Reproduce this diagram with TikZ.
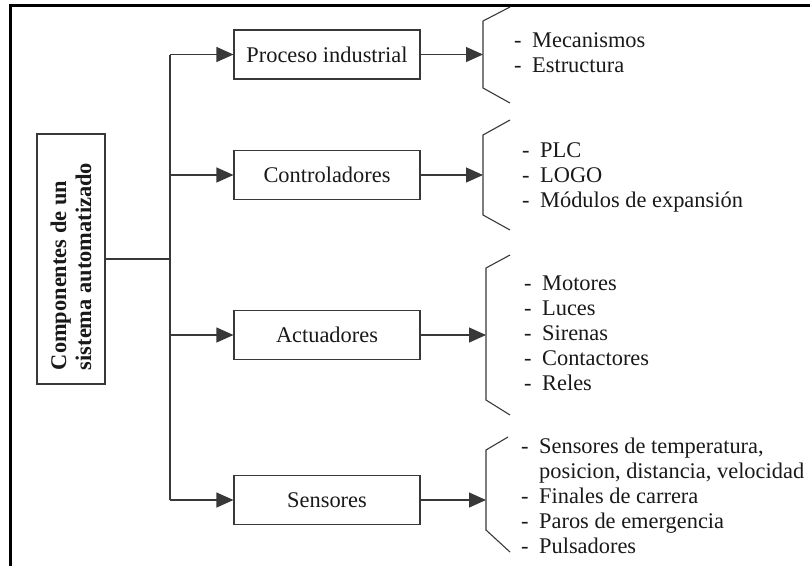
\documentclass[tikz,border=0pt]{standalone}
\usepackage{fontspec}
\setmainfont{Liberation Serif}
\usetikzlibrary{arrows.meta}

\tikzset{
  ink/.style={draw=black!78, line width=1.1pt},
  stage/.style={ink, rectangle, minimum width=186pt, minimum height=49pt,
    inner sep=0pt, font=\fontsize{22.4}{25}\selectfont, text=black!90},
  feed/.style={ink, -{Triangle[length=17pt,width=15pt]}},
  brace/.style={ink, line join=miter},
  items/.style={anchor=west, inner sep=0pt, font=\fontsize{22.4}{25}\selectfont,
    text=black!90},
  title/.style={rotate=90, align=left, inner sep=0pt,
    font=\fontsize{22.4}{25}\selectfont\bfseries, text=black!90}
}

\newcommand{\itemlist}[1]{\begin{tabular}{@{}l@{\hspace{10.5pt}}l@{}}#1\end{tabular}}

\begin{document}
\begin{tikzpicture}[x=1pt, y=-1pt]
  \useasboundingbox (0,0) rectangle (810,566);

  % page frame (open at the right and at the bottom)
  \draw[line width=2.6pt, black] (10.5,566) -- (10.5,5.7) -- (810,5.7);

  % root box with its vertical title
  \node[ink, rectangle, minimum width=68pt, minimum height=250pt, inner sep=0pt]
    (root) at (71,259) {};
  \node[title] (roottext) at (71,266.5)
    {Componentes de un\\sistema automatizado};

  % the four stages
  \node[stage] (proc) at (327,54.5) {Proceso industrial\hspace{11pt}};
  \node[stage] (ctrl) at (327,175)  {Controladores\hspace{32pt}};
  \node[stage] (act)  at (327,335)  {Actuadores\hspace{16pt}};
  \node[stage] (sens) at (327,500)  {Sensores\hspace{8pt}};

  % trunk that feeds the stages
  \coordinate (tm) at (170,259);
  \coordinate (t1) at (170,54.5);
  \coordinate (t2) at (170,175);
  \coordinate (t3) at (170,335);
  \coordinate (t4) at (170,500);
  \draw[ink] (root.east) -- (tm);
  \draw[ink] (t1) -- (t4);
  \draw[feed] (t1) -- (proc.west);
  \draw[feed] (t2) -- (ctrl.west);
  \draw[feed] (t3) -- (act.west);
  \draw[feed] (t4) -- (sens.west);

  % brackets that gather each list
  \draw[brace] (510,7) -- (483,21) -- (483,88) -- (510,103);
  \draw[brace] (510,120) -- (483,135) -- (483,215) -- (510,230);
  \draw[brace] (510,255) -- (486,268) -- (486,400) -- (510,415);
  \draw[brace] (508,437) -- (486,450) -- (486,530) -- (510,552);
  \coordinate (b1) at (483,54.5);
  \coordinate (b2) at (483,175);
  \coordinate (b3) at (486,335);
  \coordinate (b4) at (486,500);
  \draw[feed] (proc.east) -- (b1);
  \draw[feed] (ctrl.east) -- (b2);
  \draw[feed] (act.east) -- (b3);
  \draw[feed] (sens.east) -- (b4);

  % item lists
  \node[items] (l1) at (514,54.5) {\itemlist{-&Mecanismos\\-&Estructura}};
  \node[items] (l2) at (522,177) {\itemlist{-&PLC\\-&LOGO\\-&Módulos de expansión}};
  \node[items] (l3) at (524,335) {\itemlist{-&Motores\\-&Luces\\-&Sirenas\\-&Contactores\\-&Reles}};
  \node[items] (l4) at (521,498) {\itemlist{-&Sensores de temperatura,\\&posicion, distancia, velocidad\\-&Finales de carrera\\-&Paros de emergencia\\-&Pulsadores}};
\end{tikzpicture}
\end{document}
